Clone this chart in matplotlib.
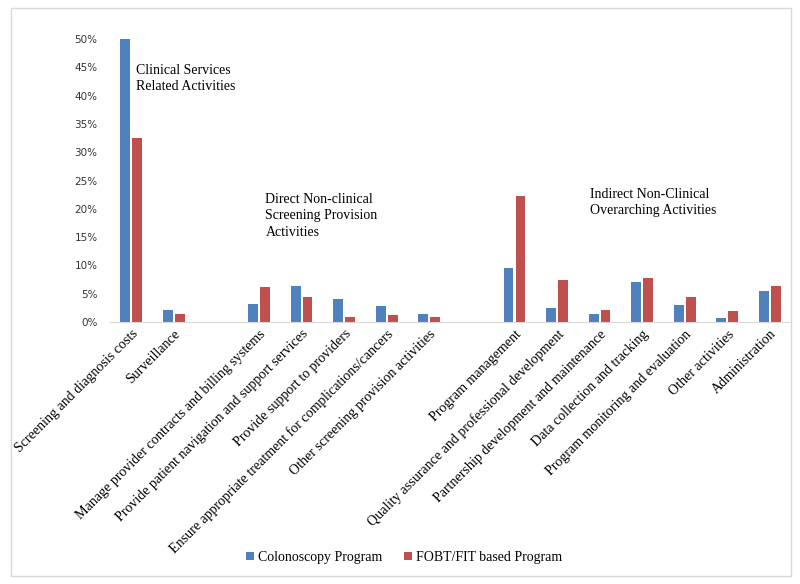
import numpy as np
import matplotlib.pyplot as plt
from matplotlib.patches import Rectangle
from matplotlib.ticker import PercentFormatter

# categories, grouped (one empty slot between groups)
group_names = ["Clinical Services\nRelated Activities",
               "Direct Non-clinical\nScreening Provision\nActivities",
               "Indirect Non-Clinical\nOverarching Activities"]
categories = [
    ["Screening and diagnosis costs", "Surveillance"],
    ["Manage provider contracts and billing systems",
     "Provide patient navigation and support services",
     "Provide support to providers",
     "Ensure appropriate treatment for complications/cancers",
     "Other screening provision activities"],
    ["Program management",
     "Quality assurance and professional development",
     "Partnership development and maintenance",
     "Data collection and tracking",
     "Program monitoring and evaluation",
     "Other activities",
     "Administration"],
]
colonoscopy = [50.0, 2.1, 3.1, 6.4, 4.0, 2.8, 1.5, 9.5, 2.4, 1.4, 7.0, 3.0, 0.7, 5.5]
fobt_fit = [32.6, 1.5, 6.1, 4.4, 0.9, 1.3, 0.8, 22.2, 7.4, 2.1, 7.8, 4.4, 1.9, 6.4]
series_names = ["Colonoscopy Program", "FOBT/FIT based Program"]

# x positions: consecutive slots, one empty slot between groups
xpos, labels = [], []
slot = 0
for grp in categories:
    for c in grp:
        xpos.append(slot)
        labels.append(c)
        slot += 1
    slot += 1
xpos = np.array(xpos)

fig = plt.figure(figsize=(8, 5.84), dpi=100)
ax = fig.add_axes([0.1375, 0.4486, 0.8515, 0.4845])

w = 0.23
ax.bar(xpos - 0.14, colonoscopy, w, color='#4F81BD', label=series_names[0])
ax.bar(xpos + 0.14, fobt_fit, w, color='#C0504D', label=series_names[1])

ax.set_xlim(-0.5, slot - 1.5)
ax.set_ylim(0, 50)
ax.set_yticks(np.arange(0, 51, 5))
ax.yaxis.set_major_formatter(PercentFormatter(decimals=0))
ax.tick_params(axis='y', length=0, labelsize=7.5, pad=9, labelcolor='#333333')
ax.tick_params(axis='x', length=0, pad=4)
ax.set_xticks(xpos)
ax.set_xticklabels(labels, rotation=45, ha='right', rotation_mode='anchor',
                   family='Liberation Serif', fontsize=10.1)
for s in ['top', 'right', 'left']:
    ax.spines[s].set_visible(False)
ax.spines['bottom'].set_color('#d9d9d9')

# group captions
cap = dict(va='top', ha='left', family='Liberation Serif', fontsize=10, linespacing=1.35)
ax.text(0.12, 45.6, group_names[0], **cap)
ax.text(3.15, 22.8, group_names[1], **cap)
ax.text(10.77, 23.7, group_names[2], **cap)

fig.legend(loc='center', bbox_to_anchor=(0.505, 0.045), ncol=2, frameon=False,
           prop={'family': 'Liberation Serif', 'size': 10},
           handlelength=0.55, handleheight=0.55, handletextpad=0.3, columnspacing=1.6)

# outer frame
fig.patches.append(Rectangle((11 / 800, 8 / 584), 780 / 800, 568 / 584,
                             transform=fig.transFigure, fill=False,
                             edgecolor='#d9d9d9', linewidth=1))

fig.savefig('out.png', dpi=100)
